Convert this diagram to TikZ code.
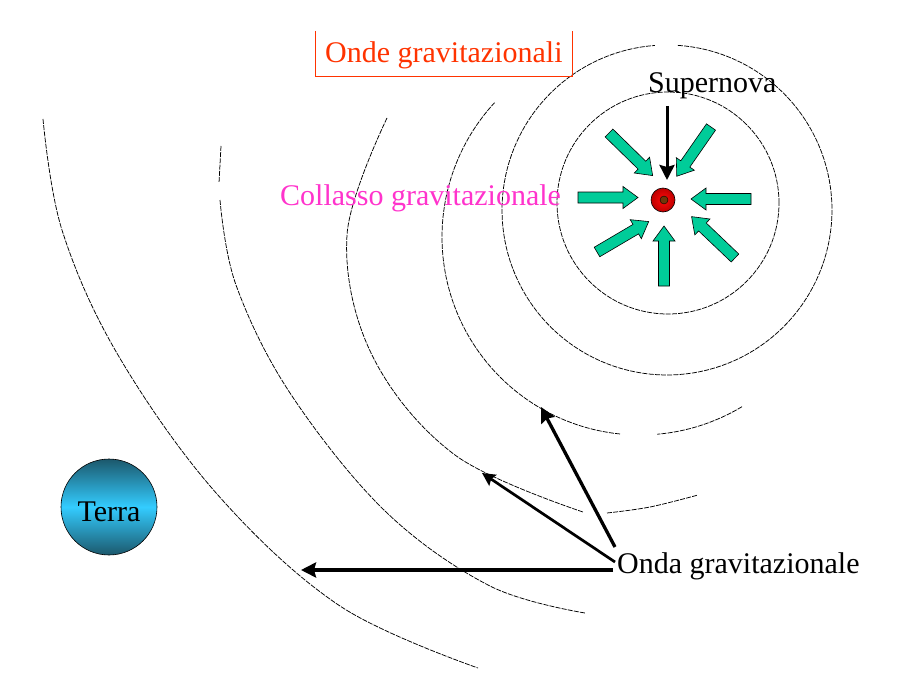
\documentclass[tikz,border=0pt]{standalone}
\usepackage{fontspec}
\setmainfont{Liberation Serif}
\usetikzlibrary{arrows.meta,calc}
\definecolor{titlered}{RGB}{255,51,0}
\definecolor{collpink}{RGB}{255,51,204}
\definecolor{garrowfill}{RGB}{0,204,153}
\definecolor{terradark}{RGB}{28,88,108}
\definecolor{terracyan}{RGB}{51,204,255}
\definecolor{snbrown}{RGB}{110,55,10}
\definecolor{snred}{RGB}{255,10,10}
\definecolor{sndark}{RGB}{190,0,0}
\newcommand{\greenarrow}[3]{\draw[greenarr, shift={(#1)}, rotate=#2] (0,-5.5) -- ({#3-15},-5.5) -- ({#3-15},-11) -- (#3,0) -- ({#3-15},11) -- ({#3-15},5.5) -- (0,5.5) -- cycle;}
\begin{document}
\begin{tikzpicture}[x=1pt,y=-1pt,
  lbl/.style={inner sep=0pt, font=\fontsize{30}{36}\selectfont, anchor=base west},
  wavearc/.style={draw=black, line width=0.75pt, dash pattern=on 5pt off 1.2pt},
  greenarr/.style={fill=garrowfill, draw=black, line width=0.6pt, line join=miter},
  blkarrow/.style={draw=black, line width=3.3pt, -{Stealth[length=15pt,width=15pt,inset=2pt]}},
]
\fill[white] (0,0) rectangle (899,674);
\useasboundingbox (0,0) rectangle (899,674);

% wave fronts
\draw[wavearc] (668,203) circle[radius=111pt];
\draw[wavearc] plot[domain=273.8:625.8, samples=140] ({667+165*cos(\x)}, {210+165*sin(\x)});
\draw[wavearc] plot[domain=95.8:222.7, samples=80] ({640+198*cos(\x)}, {237+198*sin(\x)});
\draw[wavearc] plot[domain=59:85, samples=20] ({640+198*cos(\x)}, {237+198*sin(\x)});
\draw[wavearc] plot[smooth, tension=0.6] coordinates {(387,118) (347,235) (372,355) (455,455) (583,512)};
\draw[wavearc] plot[smooth, tension=0.6] coordinates {(607,513) (650,507) (698,495)};
\draw[wavearc] (221,146) -- (219,183);
\draw[wavearc] plot[smooth, tension=0.6] coordinates {(220,200) (236,285) (290,393) (385,511) (490,586) (585,613)};
\draw[wavearc] plot[smooth, tension=0.6] coordinates {(43,119) (62,230) (118,355) (217,494) (340,606) (478,668)};

% title box
\node[lbl, inner xsep=9.5pt, inner ysep=4pt, text height=28pt, text depth=9pt, text=titlered] (title) at (315.5,63) {Onde gravitazionali};
\draw[titlered, line width=1pt] (title.north west) -- (title.south west) -- (title.south east) -- (title.north east);

% labels
\node[lbl] (super) at (648,93) {Supernova};
\node[lbl, text=collpink] (coll) at (280,205) {Collasso gravitazionale};
\node[lbl] (onda) at (617,573) {Onda gravitazionale};

% Earth
\node[circle, draw=black, line width=0.6pt, minimum size=96pt, inner sep=0pt,
      top color=terradark, bottom color=terradark, middle color=terracyan,
      font=\fontsize{30}{36}\selectfont, text height=28pt, text depth=0pt] (terra) at (109,507) {Terra};

% collapsing star
\node[circle, draw=black, line width=0.6pt, minimum size=24pt, inner sep=0pt,
      inner color=snred, outer color=sndark] (sn) at (663,200) {};
\node[circle, draw=black, line width=0.4pt, fill=snbrown, minimum size=8pt, inner sep=0pt] (core) at (664,200) {};

% infalling matter
\greenarrow{578,197.5}{0}{60}
\greenarrow{751,199}{180}{60}
\greenarrow{664,286}{90}{60}
\greenarrow{609,133}{-44.3}{61}
\greenarrow{711,127}{-124.8}{60}
\greenarrow{597,252}{30.5}{60}
\greenarrow{735,258}{136.4}{60}

% black arrows
\coordinate (snin) at (667,180);
\draw[blkarrow, line width=3pt] ([shift={(19,13)}]super.base west) -- (snin);
\coordinate (w1) at (301,570);
\coordinate (w2) at (482,473);
\coordinate (w3) at (541,407);
\draw[blkarrow] ([shift={(-4,-3)}]onda.base west) -- (w1);
\draw[blkarrow, line width=2.7pt, -{Stealth[length=13pt,width=13pt,inset=2pt]}] ([shift={(-2,-11)}]onda.base west) -- (w2);
\draw[blkarrow] ([shift={(-2,-26)}]onda.base west) -- (w3);
\end{tikzpicture}
\end{document}
